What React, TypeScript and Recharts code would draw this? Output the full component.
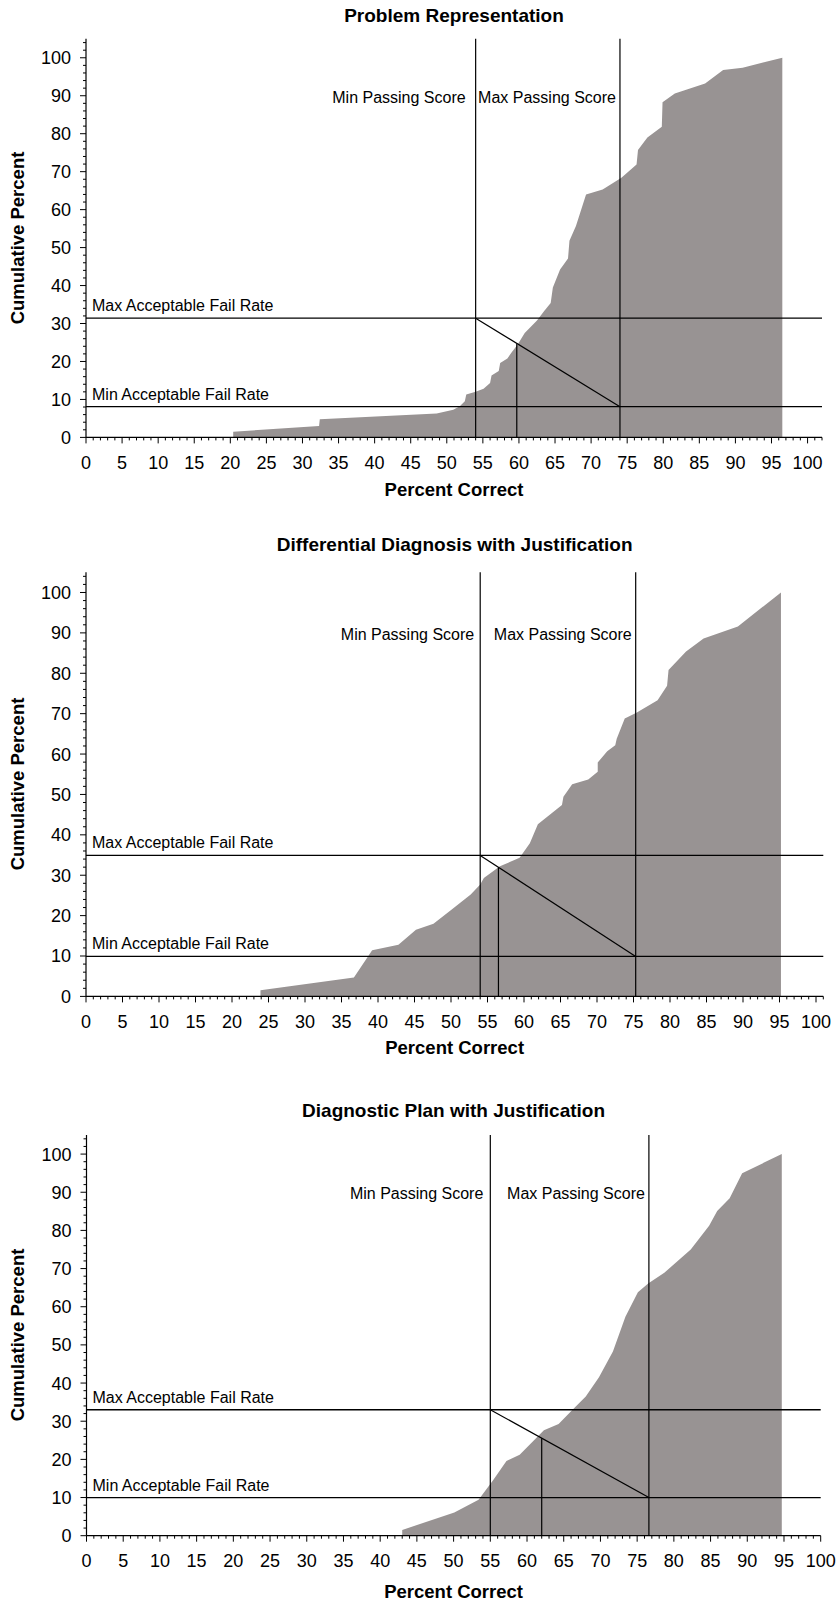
import React from 'react';
import { AreaChart, Area, XAxis, YAxis, ReferenceLine } from 'recharts';

const FONT = '"Liberation Sans", Arial, Helvetica, sans-serif';
const FILL = '#989393';

// Problem Representation
const prScores = [20.4, 20.4, 32.3, 32.4, 48.6, 50.9, 51.8, 52.5, 52.7, 54.0, 55.1, 56.0, 56.2, 57.2, 57.4, 58.4, 59.0, 59.8, 60.8, 62.5, 63.5, 64.4, 64.7, 65.7, 66.8, 67.0, 67.9, 69.3, 71.6, 74.2, 76.3, 76.5, 77.8, 79.8, 79.9, 81.6, 85.8, 88.3, 91.0, 96.5, 96.5];
const prCumulative = [0, 1.5, 3.0, 4.8, 6.3, 7.3, 8.2, 9.5, 11.3, 12.0, 12.8, 14.3, 16.3, 17.5, 19.6, 20.8, 22.4, 24.4, 27.5, 30.8, 33.3, 35.4, 39.5, 44.2, 47.1, 51.8, 55.7, 64.0, 65.3, 68.4, 71.9, 75.7, 79.0, 81.8, 88.3, 90.6, 93.2, 96.8, 97.4, 100, 0];
const prCuts = { minPass: 54.0, maxPass: 74.0, minFail: 8.1, maxFail: 31.4, mid: 59.7 };

// Differential Diagnosis with Justification
const ddScores = [23.9, 23.9, 36.7, 39.2, 42.8, 45.2, 47.6, 50.1, 52.7, 54.0, 54.5, 56.7, 59.4, 60.8, 61.9, 65.2, 65.4, 66.6, 68.8, 70.1, 70.1, 71.4, 72.5, 72.7, 73.8, 75.4, 78.3, 79.6, 79.8, 82.2, 84.6, 89.3, 95.2, 95.2];
const ddCumulative = [0, 1.5, 4.7, 11.4, 12.8, 16.5, 18.0, 21.5, 25.2, 27.7, 29.3, 32.2, 34.3, 37.9, 42.6, 47.4, 49.4, 52.5, 53.7, 55.6, 57.9, 60.7, 62.2, 63.8, 68.8, 70.2, 73.3, 76.9, 80.8, 85.4, 88.6, 91.6, 100, 0];
const ddCuts = { minPass: 54.0, maxPass: 75.3, minFail: 9.9, maxFail: 34.9, mid: 56.5 };

// Diagnostic Plan with Justification
const dpScores = [43.0, 43.0, 50.1, 53.4, 55.4, 57.2, 59.0, 62.3, 64.3, 66.2, 68.0, 69.8, 71.7, 73.4, 75.1, 76.5, 78.7, 82.3, 84.8, 85.9, 87.6, 89.3, 94.7, 94.7];
const dpCumulative = [0, 1.5, 6.1, 9.4, 14.6, 19.6, 21.2, 27.6, 29.3, 33.0, 36.5, 41.5, 48.3, 57.4, 63.8, 66.1, 68.9, 75.0, 81.2, 85.1, 88.4, 95.0, 100, 0];
const dpCuts = { minPass: 55.0, maxPass: 76.6, minFail: 10.0, maxFail: 33.0, mid: 62.0 };

const Y_MAX = 105;
const yTicks = Array.from({ length: 53 }, (_, i) => i * 2);

function XTick(props: any) {
    const { x, y, payload } = props;
    const v = payload.value;
    const major = v % 5 === 0;
    return (
        <g>
            <line x1={x} x2={x} y1={y} y2={y + (major ? 6 : 3)} stroke="#000" strokeWidth={1} />
            {major && v <= 100 && (
                <text x={x} y={y + 25} dy="0.36em" textAnchor="middle" fontSize={18} fontFamily={FONT} fill="#000">
                    {v}
                </text>
            )}
        </g>
    );
}

function YTick(props: any) {
    const { x, y, payload } = props;
    const v = payload.value;
    const major = v % 10 === 0;
    return (
        <g>
            <line x1={x - (major ? 6 : 3)} x2={x} y1={y} y2={y} stroke="#000" strokeWidth={1} />
            {major && v <= 100 && (
                <text x={x - 15} y={y} dy="0.36em" textAnchor="end" fontSize={18} fontFamily={FONT} fill="#000">
                    {v}
                </text>
            )}
        </g>
    );
}

function FailLabel(props: any) {
    const { viewBox, text } = props;
    return (
        <text x={viewBox.x + 6} y={viewBox.y - 7} fontSize={16} fontFamily={FONT} fill="#000">
            {text}
        </text>
    );
}

function PassLabel(props: any) {
    const { viewBox, text, at, gap } = props;
    const y = viewBox.y + (viewBox.height * (Y_MAX - at)) / Y_MAX;
    return (
        <text x={viewBox.x - gap} y={y + 6} textAnchor="end" fontSize={16} fontFamily={FONT} fill="#000">
            {text}
        </text>
    );
}

type Box = {
    svgTop: number;
    svgHeight: number;
    left: number;
    right: number;
    top: number;
    bottom: number;
    xMax: number;
    titleY: number;
    xTitleY: number;
    minGap: number;
};

function CutScoreChart({ title, scores, cumulative, cuts, box }: any) {
    const b: Box = box;
    const data = scores.map((s: number, i: number) => ({ x: s, y: cumulative[i] }));
    const xTicks = Array.from({ length: b.xMax + 1 }, (_, i) => i);
    const midY =
        cuts.maxFail -
        ((cuts.mid - cuts.minPass) / (cuts.maxPass - cuts.minPass)) * (cuts.maxFail - cuts.minFail);
    const W = 839;
    const cx = (b.left + b.right) / 2;
    const text: React.CSSProperties = {
        position: 'absolute',
        fontFamily: FONT,
        fontWeight: 'bold',
        whiteSpace: 'nowrap',
        color: '#000',
    };

    return (
        <>
            <div style={{ ...text, left: cx - 300, width: 600, textAlign: 'center', top: b.titleY - 9.5, fontSize: 19, lineHeight: '19px' }}>
                {title}
            </div>
            <div style={{ position: 'absolute', left: 0, top: b.svgTop }}>
                <AreaChart
                    width={W}
                    height={b.svgHeight}
                    data={data}
                    margin={{
                        top: b.top - b.svgTop,
                        bottom: b.svgTop + b.svgHeight - b.bottom - 30,
                        left: b.left - 40,
                        right: W - b.right,
                    }}
                >
                    <XAxis
                        type="number"
                        dataKey="x"
                        domain={[0, b.xMax]}
                        ticks={xTicks}
                        interval={0}
                        allowDataOverflow
                        height={30}
                        tickSize={0}
                        tickMargin={0}
                        tickLine={false}
                        tick={<XTick />}
                        axisLine={{ stroke: '#000', strokeWidth: 1.2 }}
                    />
                    <YAxis
                        type="number"
                        domain={[0, Y_MAX]}
                        ticks={yTicks}
                        interval={0}
                        allowDataOverflow
                        width={40}
                        tickSize={0}
                        tickMargin={0}
                        tickLine={false}
                        tick={<YTick />}
                        axisLine={{ stroke: '#000', strokeWidth: 1.2 }}
                    />
                    <Area
                        type="linear"
                        dataKey="y"
                        stroke="none"
                        fill={FILL}
                        fillOpacity={1}
                        isAnimationActive={false}
                        dot={false}
                        activeDot={false}
                    />
                    <ReferenceLine
                        y={cuts.maxFail}
                        stroke="#000"
                        strokeWidth={1.3}
                        label={<FailLabel text="Max Acceptable Fail Rate" />}
                    />
                    <ReferenceLine
                        y={cuts.minFail}
                        stroke="#000"
                        strokeWidth={1.3}
                        label={<FailLabel text="Min Acceptable Fail Rate" />}
                    />
                    <ReferenceLine
                        x={cuts.minPass}
                        stroke="#000"
                        strokeWidth={1.2}
                        label={<PassLabel text="Min Passing Score" at={89.8} gap={b.minGap} />}
                    />
                    <ReferenceLine
                        x={cuts.maxPass}
                        stroke="#000"
                        strokeWidth={1.2}
                        label={<PassLabel text="Max Passing Score" at={89.8} gap={4} />}
                    />
                    <ReferenceLine
                        segment={[
                            { x: cuts.minPass, y: cuts.maxFail },
                            { x: cuts.maxPass, y: cuts.minFail },
                        ]}
                        stroke="#000"
                        strokeWidth={1.2}
                    />
                    <ReferenceLine
                        segment={[
                            { x: cuts.mid, y: 0 },
                            { x: cuts.mid, y: midY },
                        ]}
                        stroke="#000"
                        strokeWidth={1.2}
                    />
                </AreaChart>
            </div>
            <div style={{ ...text, left: cx - 200, width: 400, textAlign: 'center', top: b.xTitleY - 9.25, fontSize: 18.5, lineHeight: '18.5px' }}>
                Percent Correct
            </div>
            <div
                style={{
                    ...text,
                    left: 18,
                    top: (b.top + b.bottom) / 2,
                    fontSize: 18.5,
                    lineHeight: '18.5px',
                    transform: 'translate(-50%, -50%) rotate(-90deg)',
                }}
            >
                Cumulative Percent
            </div>
        </>
    );
}

const boxes: Box[] = [
    { svgTop: 0, svgHeight: 480, left: 86, right: 822, top: 38.8, bottom: 437.4, xMax: 102, titleY: 15.3, xTitleY: 490.5, minGap: 10 },
    { svgTop: 520, svgHeight: 520, left: 86, right: 823.3, top: 572.3, bottom: 996.4, xMax: 101, titleY: 544.7, xTitleY: 1048.5, minGap: 6 },
    { svgTop: 1125, svgHeight: 455, left: 86.5, right: 820.7, top: 1135, bottom: 1535.7, xMax: 100, titleY: 1110.8, xTitleY: 1592, minGap: 7 },
];

export default function App() {
    return (
        <div style={{ position: 'absolute', left: 0, top: 0, width: 839, height: 1602, background: '#fff', overflow: 'hidden' }}>
            <CutScoreChart title="Problem Representation" scores={prScores} cumulative={prCumulative} cuts={prCuts} box={boxes[0]} />
            <CutScoreChart title="Differential Diagnosis with Justification" scores={ddScores} cumulative={ddCumulative} cuts={ddCuts} box={boxes[1]} />
            <CutScoreChart title="Diagnostic Plan with Justification" scores={dpScores} cumulative={dpCumulative} cuts={dpCuts} box={boxes[2]} />
        </div>
    );
}
